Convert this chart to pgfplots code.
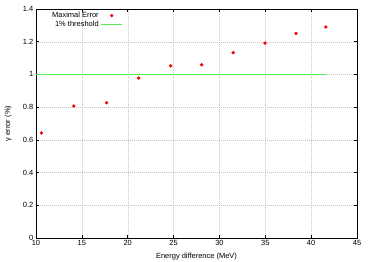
\documentclass[border=0pt]{standalone}
\usepackage{pgfplots}
\pgfplotsset{compat=1.18}
\usepackage{fontspec}
\setmainfont{Liberation Sans}
\pgfplotsset{
  dotlegend/.style={legend image code/.code={\draw[##1] plot coordinates {(0.375cm,0cm)};}},
  linelegend/.style={legend image code/.code={\draw[##1] (0cm,0cm) -- (0.75cm,0cm);}},
}
\begin{document}
\fontsize{7.5}{9}\selectfont
\begin{tikzpicture}
\useasboundingbox (-36bp,-24bp) rectangle (338bp,238bp);
\begin{axis}[
  at={(0,0)}, anchor=south west,
  scale only axis, width=321bp, height=229bp,
  xmin=10, xmax=45, ymin=0, ymax=1.4,
  xtick={10,15,...,45}, ytick={0,0.2,...,1.4},
  yticklabels={0,0.2,0.4,0.6,0.8,1,1.2,1.4},
  /pgf/number format/assume math mode=true,
  tick align=inside, major tick length=3bp,
  tick style={black, line width=0.6pt},
  axis line style={black, line width=0.8pt},
  grid=major, grid style={gray!45, dash pattern=on 1pt off 1pt, line width=0.4pt},
  ticklabel style={font=\fontsize{7.5}{9}\selectfont},
  xticklabel style={yshift=0bp},
  xlabel={Energy difference (MeV)}, ylabel={γ error (\%)},
  label style={font=\fontsize{7.5}{9}\selectfont},
  xlabel style={yshift=-2bp},
  ylabel style={yshift=6bp},
  legend plot pos=right, legend cell align=right,
  legend style={draw=none, fill=none, at={(axis cs:11.2,1.405)}, anchor=north west,
    font=\fontsize{7.5}{9}\selectfont, row sep=-1.5pt},
]
\addplot[only marks, mark=*, mark size=1.5pt, red, mark options={draw=red, fill=red}, dotlegend] coordinates {
(10.58,0.642) (14.14,0.807) (17.7,0.827) (21.2,0.978) (24.69,1.053)
(28.07,1.059) (31.5,1.133) (34.97,1.192) (38.35,1.251) (41.6,1.29)
};
\addlegendentry{Maximal Error}
\addplot[color={rgb,255:red,80;green,240;blue,80}, line width=0.8pt, linelegend] coordinates {(10,1) (41.6,1)};
\addlegendentry{1\% threshold}
\end{axis}
\end{tikzpicture}
\end{document}
